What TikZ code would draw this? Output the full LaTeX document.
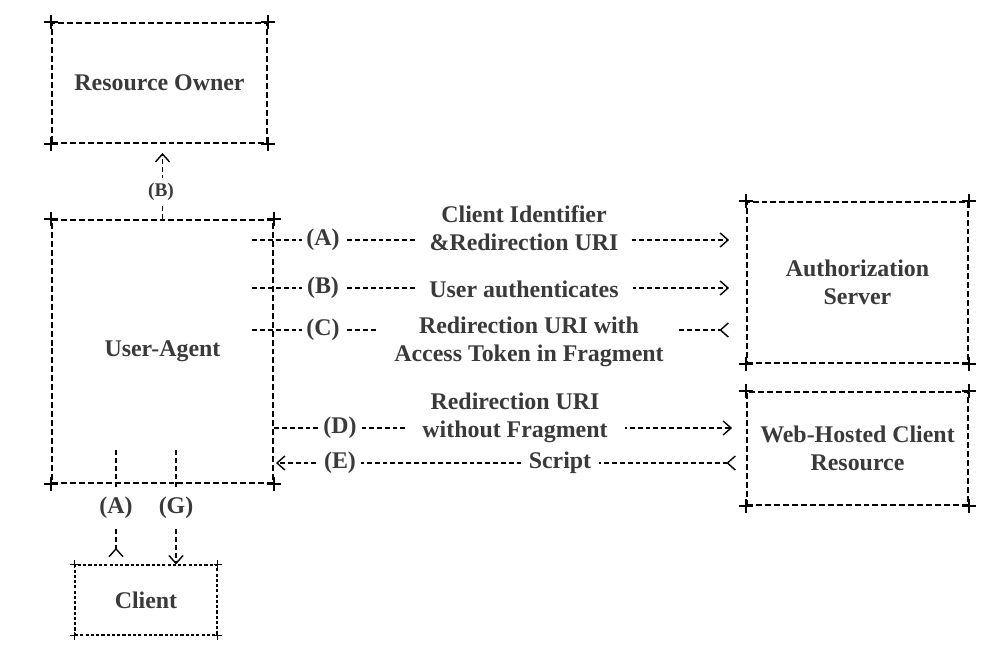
\documentclass[tikz,border=0pt]{standalone}
\usepackage{fontspec}
\setmainfont{Liberation Serif}
\usepackage{tikz}
\usetikzlibrary{arrows.meta,positioning,calc}
\definecolor{inkgray}{HTML}{3A3A3A}

\begin{document}
\begin{tikzpicture}[x=0.02cm, y=-0.02cm,
  box/.style={draw=black, line width=1.1pt, dash pattern=on 3.4pt off 1.7pt,
    font=\bfseries\fontsize{13.6}{15.9}\selectfont, text=inkgray, align=center, inner sep=0pt},
  smallbox/.style={box, line width=0.6pt, dash pattern=on 1.8pt off 1.2pt},
  corner/.style={line width=1.5pt, black},
  flow/.style={draw=black, line width=0.9pt, dash pattern=on 2.8pt off 1.7pt},
  ascii/.tip={Straight Barb[length=4.5pt, width=8pt, line width=0.8pt]},
  asciirev/.tip={Straight Barb[reversed, length=4.5pt, width=8pt, line width=0.8pt]},
  lbl/.style={fill=white, text=inkgray, font=\bfseries\fontsize{13.6}{15.9}\selectfont,
    align=center, inner xsep=2.8pt, inner ysep=1pt}]
  \useasboundingbox (0,0) rectangle (1003,645);

  % Boxes
  \node[box, minimum width=4.30cm, minimum height=2.40cm] (ro) at (159.5,83) {Resource Owner};
  \node[box, minimum width=4.42cm, minimum height=5.26cm] (ua) at (162.5,351.5) {User-Agent};
  \node[box, minimum width=4.42cm, minimum height=3.22cm] (as) at (857.5,282.5) {Authorization\\Server};
  \node[box, minimum width=4.42cm, minimum height=2.26cm] (wh) at (857.5,448.5) {Web-Hosted Client\\Resource};
  \node[smallbox, minimum width=2.84cm, minimum height=1.40cm] (cl) at (146,600) {Client};

  % Corner crosses
  \foreach \n in {ro,ua,as,wh}
    \foreach \c in {north west,north east,south west,south east}
      \draw[corner] (\n.\c) +(-7,0) -- +(7,0) (\n.\c) +(0,-7) -- +(0,7);
  \foreach \c in {north west,north east,south west,south east}
    \draw[line width=0.8pt] (cl.\c) +(-4,0) -- +(4,0) (cl.\c) +(0,-4) -- +(0,4);

  % Flows to the authorization server
  \coordinate (a0) at (252,240);
  \coordinate (b0) at (252,288);
  \coordinate (c0) at (252,330);
  \draw[flow, -{ascii}, shorten >=0.34cm] (a0) -- (a0 -| as.west);
  \draw[flow, -{ascii}, shorten >=0.34cm] (b0) -- (b0 -| as.west);
  \draw[flow, -{asciirev}, shorten >=0.34cm] (c0) -- (c0 -| as.west);
  \node[lbl] (la) at (323,240) {(A)};
  \node[lbl] (lb) at (323,288) {(B)};
  \node[lbl] (lc) at (323,330) {(C)};
  \node[lbl, inner xsep=0.26cm] (ta) at (524,228) {Client Identifier\\\&Redirection URI};
  \node[lbl, inner xsep=0.28cm] (tb) at (524,289) {User authenticates};
  \node[lbl, inner xsep=0.3cm] (tc) at (529,342) {Redirection URI with\\Access Token in Fragment};

  % Flows to the web-hosted client resource
  \coordinate (d0) at (500,428);
  \coordinate (e0) at (500,463);
  \draw[flow, -{ascii}, shorten >=0.28cm] (d0 -| ua.east) -- (d0 -| wh.west);
  \draw[flow, {asciirev}-{ascii}, shorten <=0.2cm, shorten >=0.04cm] (e0 -| wh.west) -- (e0 -| ua.east);
  \node[lbl] (ld) at (340,428) {(D)};
  \node[lbl] (le) at (340,463) {(E)};
  \node[lbl, inner xsep=0.34cm] (td) at (515,418) {Redirection URI\\without Fragment};
  \node[lbl, inner xsep=0.16cm] (te) at (560,463) {Script};

  % Resource owner and client
  \draw[flow, -{ascii}, shorten >=0.18cm] (ua.north) -- (ua.north |- ro.south);
  \node[lbl, font=\bfseries\fontsize{11}{13}\selectfont, inner ysep=3pt] (lro) at (161,192) {(B)};
  \coordinate (ga) at (116,450);
  \coordinate (gg) at (176,450);
  \draw[flow, -{asciirev}, shorten >=0.14cm] (ga) -- (ga |- cl.north);
  \draw[flow, -{ascii}] (gg) -- (gg |- cl.north);
  \node[lbl, inner ysep=4pt] (lca) at (116,508) {(A)};
  \node[lbl, inner ysep=4pt] (lcg) at (176,508) {(G)};
\end{tikzpicture}
\end{document}
